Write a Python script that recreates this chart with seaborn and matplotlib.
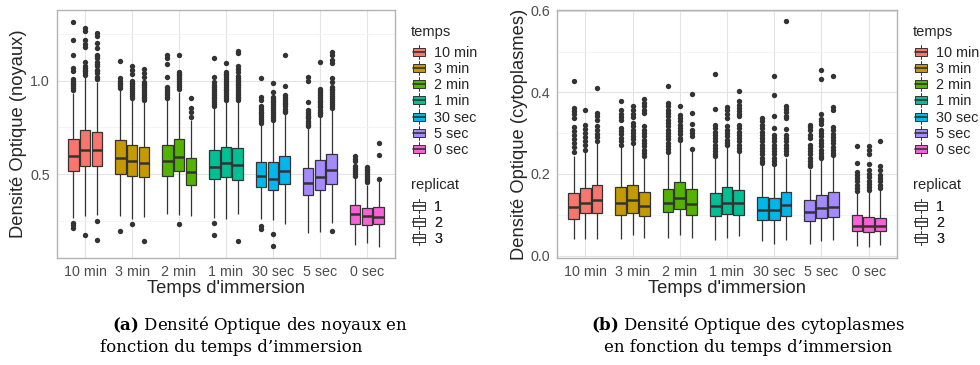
import numpy as np
import pandas as pd
import matplotlib
matplotlib.use('Agg')
import matplotlib.pyplot as plt
from matplotlib.patches import Patch, Rectangle
from matplotlib.lines import Line2D
from matplotlib.legend_handler import HandlerBase
import seaborn as sns

temps = ['10 min', '3 min', '2 min', '1 min', '30 sec', '5 sec', '0 sec']
replicats = ['1', '2', '3']
couleurs = ['#F8766D', '#C49A00', '#53B400', '#00C094', '#00B6EB', '#A58AFF', '#FB61D7']

# Noyaux : one row per temps, one value per replicat
noy_q1 = [[0.518, 0.541, 0.541], [0.500, 0.491, 0.486], [0.491, 0.514, 0.443], [0.473, 0.484, 0.466],
          [0.429, 0.416, 0.448], [0.388, 0.416, 0.448], [0.234, 0.229, 0.232]]
noy_med = [[0.598, 0.629, 0.629], [0.586, 0.568, 0.557], [0.571, 0.589, 0.509], [0.539, 0.557, 0.550],
           [0.491, 0.475, 0.514], [0.450, 0.484, 0.520], [0.284, 0.273, 0.268]]
noy_q3 = [[0.688, 0.736, 0.725], [0.684, 0.655, 0.646], [0.655, 0.688, 0.584], [0.629, 0.645, 0.638],
          [0.564, 0.563, 0.598], [0.532, 0.573, 0.607], [0.334, 0.318, 0.325]]
noy_lo = [[0.264, 0.277, 0.282], [0.273, 0.261, 0.268], [0.286, 0.280, 0.273], [0.264, 0.259, 0.288],
          [0.259, 0.255, 0.232], [0.182, 0.189, 0.238], [0.121, 0.130, 0.107]]
noy_hi = [[0.935, 1.020, 0.995], [0.955, 0.895, 0.885], [0.895, 0.940, 0.790], [0.860, 0.885, 0.890],
          [0.765, 0.780, 0.820], [0.748, 0.805, 0.842], [0.480, 0.440, 0.460]]
noy_fliers = [
    [[1.316, 1.218, 1.138, 1.066, 1.052, 1.01, 1.0, 0.99, 0.98, 0.97, 0.96, 0.95, 0.237, 0.225, 0.21],
     [1.28, 1.268, 1.218, 1.196, 1.18, 1.10, 1.08, 1.07, 1.06, 1.05, 1.04, 1.03, 0.175],
     [1.254, 1.239, 1.204, 1.173, 1.14, 1.13, 1.12, 1.10, 1.09, 1.08, 1.06, 1.05, 1.04, 1.02, 1.01, 0.25, 0.146]],
    [[1.105, 1.013, 1.0, 0.99, 0.98, 0.97, 0.96, 0.195],
     [1.08, 1.057, 1.036, 1.0, 0.99, 0.98, 0.97, 0.96, 0.95, 0.94, 0.93, 0.92, 0.91, 0.23],
     [1.063, 1.04, 1.021, 0.995, 0.985, 0.975, 0.965, 0.955, 0.945, 0.935, 0.925, 0.915, 0.905, 0.897, 0.139]],
    [[1.138, 1.12, 1.089, 1.021, 0.968, 0.955, 0.945, 0.935, 0.925, 0.915, 0.905],
     [1.138, 1.048, 1.038, 1.028, 1.018, 1.008, 0.998, 0.988, 0.978, 0.968, 0.955, 0.23],
     [0.905, 0.852, 0.834, 0.804]],
    [[1.12, 1.02, 0.995, 0.977, 0.965, 0.955, 0.945, 0.935, 0.925, 0.915, 0.905, 0.895, 0.885, 0.875, 0.866,
      0.238, 0.175],
     [1.093, 1.048, 1.038, 1.028, 1.018, 1.008, 0.998, 0.988, 0.978, 0.968, 0.958, 0.948, 0.938, 0.928, 0.918,
      0.908, 0.898],
     [1.16, 1.146, 1.079, 1.064, 1.048, 1.025, 1.015, 1.005, 0.995, 0.985, 0.975, 0.965, 0.955, 0.945, 0.935,
      0.925, 0.915, 0.905, 0.897, 0.139]],
    [[1.013, 0.914, 0.896, 0.864, 0.855, 0.845, 0.835, 0.825, 0.816, 0.805, 0.795, 0.785, 0.775, 0.22, 0.205],
     [0.986, 0.941, 0.914, 0.904, 0.894, 0.884, 0.874, 0.864, 0.854, 0.844, 0.834, 0.82, 0.81, 0.80, 0.79,
      0.18, 0.113],
     [1.138, 0.971, 0.923, 0.913, 0.903, 0.893, 0.883, 0.873, 0.864, 0.85, 0.84, 0.83]],
    [[1.021, 0.998, 0.884, 0.843, 0.833, 0.823, 0.813, 0.803, 0.798, 0.785, 0.775, 0.765, 0.755],
     [1.098, 0.954, 0.944, 0.934, 0.924, 0.914, 0.904, 0.894, 0.884, 0.874, 0.864, 0.857, 0.845, 0.835, 0.825,
      0.815],
     [1.152, 1.138, 1.11, 1.093, 1.013, 0.995, 0.968, 0.958, 0.948, 0.938, 0.928, 0.918, 0.908, 0.896, 0.885,
      0.875, 0.865, 0.855, 0.195]],
    [[0.595, 0.581, 0.568, 0.541, 0.531, 0.521, 0.511, 0.501, 0.491],
     [0.539, 0.529, 0.519, 0.509, 0.499, 0.489, 0.479, 0.469, 0.459],
     [0.668, 0.602, 0.473]],
]

# Cytoplasmes
cyt_q1 = [[0.090, 0.104, 0.104], [0.100, 0.104, 0.096], [0.106, 0.114, 0.099], [0.096, 0.103, 0.099],
          [0.088, 0.088, 0.098], [0.084, 0.091, 0.095], [0.061, 0.057, 0.059]]
cyt_med = [[0.119, 0.130, 0.135], [0.130, 0.135, 0.122], [0.130, 0.141, 0.127], [0.121, 0.130, 0.129],
           [0.111, 0.111, 0.123], [0.106, 0.117, 0.119], [0.073, 0.072, 0.073]]
cyt_q3 = [[0.153, 0.165, 0.174], [0.168, 0.174, 0.155], [0.163, 0.180, 0.163], [0.153, 0.168, 0.160],
          [0.143, 0.141, 0.156], [0.135, 0.149, 0.155], [0.100, 0.095, 0.092]]
cyt_lo = [[0.041, 0.041, 0.041], [0.041, 0.051, 0.043], [0.043, 0.051, 0.043], [0.039, 0.043, 0.047],
          [0.035, 0.029, 0.039], [0.029, 0.035, 0.038], [0.023, 0.020, 0.025]]
cyt_hi = [[0.245, 0.255, 0.276], [0.266, 0.274, 0.242], [0.248, 0.278, 0.259], [0.238, 0.266, 0.251],
          [0.223, 0.219, 0.239], [0.212, 0.235, 0.243], [0.155, 0.157, 0.163]]
cyt_fliers = [
    [[0.429, 0.362, 0.355, 0.347, 0.337, 0.315, 0.305, 0.295, 0.285, 0.275, 0.265, 0.255],
     [0.357, 0.32, 0.31, 0.30, 0.29, 0.28, 0.27, 0.26],
     [0.41, 0.35, 0.342, 0.333, 0.317, 0.308, 0.298, 0.29, 0.28]],
    [[0.378, 0.357, 0.348, 0.34, 0.333, 0.313, 0.305, 0.297, 0.289, 0.281, 0.272],
     [0.366, 0.357, 0.348, 0.34, 0.325, 0.317, 0.309, 0.301, 0.293, 0.285, 0.277],
     [0.384, 0.374, 0.366, 0.358, 0.35, 0.317, 0.308, 0.30, 0.292, 0.284, 0.276, 0.268, 0.26, 0.252, 0.245]],
    [[0.415, 0.375, 0.366, 0.358, 0.349, 0.341, 0.333, 0.325, 0.317, 0.309, 0.301, 0.293, 0.285, 0.277, 0.269,
      0.261, 0.253],
     [0.366, 0.345, 0.337, 0.329, 0.321, 0.313, 0.305, 0.297, 0.289, 0.283],
     [0.397, 0.349, 0.323, 0.308, 0.30, 0.292, 0.262]],
    [[0.446, 0.359, 0.32, 0.312, 0.304, 0.296, 0.288, 0.28, 0.272, 0.264, 0.256, 0.248, 0.243],
     [0.364, 0.356, 0.348, 0.337, 0.317, 0.308, 0.30, 0.292, 0.284, 0.276, 0.272],
     [0.404, 0.378, 0.37, 0.362, 0.354, 0.346, 0.341, 0.32, 0.312, 0.304, 0.296, 0.288, 0.28, 0.272, 0.264,
      0.256]],
    [[0.337, 0.329, 0.32, 0.312, 0.304, 0.296, 0.288, 0.28, 0.272, 0.264, 0.256, 0.248, 0.24, 0.232, 0.226],
     [0.439, 0.394, 0.341, 0.313, 0.296, 0.288, 0.28, 0.272, 0.264, 0.256, 0.248, 0.24, 0.232, 0.224],
     [0.574, 0.367, 0.359, 0.351, 0.343, 0.337, 0.31, 0.296, 0.288, 0.28, 0.272, 0.264, 0.256, 0.248]],
    [[0.32, 0.314, 0.308, 0.296, 0.288, 0.272, 0.264, 0.256, 0.248, 0.24, 0.232, 0.224, 0.219],
     [0.454, 0.433, 0.348, 0.335, 0.329, 0.323, 0.308, 0.30, 0.292, 0.284, 0.276, 0.268, 0.26, 0.252, 0.244,
      0.239],
     [0.441, 0.364, 0.356, 0.315, 0.307, 0.299, 0.291, 0.283, 0.275, 0.267, 0.259, 0.251, 0.247]],
    [[0.269, 0.227, 0.206, 0.198, 0.19, 0.182, 0.174, 0.166, 0.158],
     [0.268, 0.259, 0.248, 0.224, 0.21, 0.2, 0.192, 0.184, 0.176, 0.168, 0.16],
     [0.282, 0.22, 0.21, 0.198, 0.19, 0.182, 0.174, 0.166]],
]

LINE = '#333333'


class BoxKey(HandlerBase):
    # ggplot-like boxplot key: box, median line and whisker through the middle
    def create_artists(self, legend, orig_handle, xdescent, ydescent, width, height, fontsize, trans):
        x0, y0 = -xdescent, -ydescent
        whisk = Line2D([x0 + width / 2] * 2, [y0 - 0.2 * height, y0 + 1.2 * height],
                       color=LINE, lw=0.7, transform=trans)
        box = Rectangle((x0, y0 + 0.1 * height), width, 0.8 * height, facecolor=orig_handle.get_facecolor(),
                        edgecolor=LINE, lw=0.7, transform=trans)
        mid = Line2D([x0, x0 + width], [y0 + height / 2] * 2, color=LINE, lw=1.2, transform=trans)
        return [whisk, box, mid]


def add_legend(ax, title, handles, labels, ytitle, ytop):
    ax.text(1.046, ytitle, title, transform=ax.transAxes, fontsize=10.6, va='center', ha='left')
    leg = ax.legend(handles=handles, labels=labels, handler_map={Patch: BoxKey()},
                    loc='upper left', bbox_to_anchor=(1.052, ytop), frameon=False, fontsize=10.4,
                    handlelength=0.85, handleheight=0.7, handletextpad=0.65, labelspacing=0.15,
                    borderaxespad=0, borderpad=0)
    ax.add_artist(leg)


def draw_panel(ax, q1, med, q3, lo, hi, fliers):
    rows = []
    pts = []
    for i, t in enumerate(temps):
        for j, r in enumerate(replicats):
            x = i + (j - 1) * 0.25
            # values whose quartiles / extremes give the box
            vals = [lo[i][j]] + [q1[i][j]] * 4 + [med[i][j]] * 4 + [q3[i][j]] * 4 + [hi[i][j]]
            rows += [(x, t, r, v) for v in vals]
            pts += [(x, v) for v in fliers[i][j]]
    df = pd.DataFrame(rows, columns=['pos', 'temps', 'replicat', 'val'])
    out = pd.DataFrame(pts, columns=['pos', 'val'])

    sns.boxplot(data=df, x='pos', y='val', hue='temps', hue_order=temps, palette=couleurs,
                native_scale=True, dodge=False, width=0.9, whis=(0, 100), saturation=1,
                linecolor=LINE, linewidth=0.9, medianprops={'linewidth': 1.8},
                capprops={'visible': False}, legend=False, ax=ax)
    sns.scatterplot(data=out, x='pos', y='val', color=LINE, s=15, linewidth=0, legend=False, ax=ax, zorder=3)

    ax.set_xlim(-0.6, 6.6)
    ax.set_xticks(range(len(temps)))
    ax.set_xticklabels(temps)
    ax.grid(which='major', color='#e3e3e3', lw=0.8)
    ax.grid(which='minor', axis='y', color='#f0f0f0', lw=0.5)
    ax.set_axisbelow(True)
    for s in ax.spines.values():
        s.set_visible(True)
        s.set_color('#b3b3b3')
        s.set_linewidth(1.0)
    ax.tick_params(which='major', length=3, width=0.8, color='#b3b3b3', labelcolor='#4d4d4d',
                   labelsize=10.3, pad=2)
    ax.tick_params(which='minor', length=0)
    ax.set_xlabel("Temps d'immersion", fontsize=13.2)
    ax.xaxis.set_label_coords(0.5, -0.09)

    add_legend(ax, 'temps', [Patch(facecolor=c) for c in couleurs], temps, 0.911, 0.855)
    add_legend(ax, 'replicat', [Patch(facecolor='white') for _ in replicats], replicats, 0.294, 0.234)


sns.set_style('white')
plt.rcParams['font.family'] = ['Liberation Sans', 'DejaVu Sans']
plt.rcParams['mathtext.fontset'] = 'custom'
plt.rcParams['mathtext.rm'] = 'DejaVu Serif'
plt.rcParams['mathtext.bf'] = 'DejaVu Serif:bold'

fig = plt.figure(figsize=(9.8, 3.65), dpi=100)
ax1 = fig.add_axes([57 / 980, 107 / 365, 338 / 980, 248 / 365])
ax2 = fig.add_axes([557 / 980, 107 / 365, 340 / 980, 248 / 365])

draw_panel(ax1, noy_q1, noy_med, noy_q3, noy_lo, noy_hi, noy_fliers)
ax1.set_ylim(0.05, 1.379)
ax1.set_yticks([0.5, 1.0])
ax1.set_yticklabels(['0.5', '1.0'])
ax1.set_yticks([0.25, 0.75, 1.25], minor=True)
ax1.set_ylabel('Densité Optique (noyaux)', fontsize=13.2)
ax1.yaxis.set_label_coords(-0.089, 0.5)

draw_panel(ax2, cyt_q1, cyt_med, cyt_q3, cyt_lo, cyt_hi, cyt_fliers)
ax2.set_ylim(-0.006, 0.602)
ax2.set_yticks([0.0, 0.2, 0.4, 0.6])
ax2.set_yticklabels(['0.0', '0.2', '0.4', '0.6'])
ax2.set_yticks([0.1, 0.3, 0.5], minor=True)
ax2.set_ylabel('Densité Optique (cytoplasmes)', fontsize=13.2)
ax2.yaxis.set_label_coords(-0.085, 0.5)

cap = dict(family='DejaVu Serif', fontsize=12, va='center', color='black')
fig.text(112 / 980, 1 - 325 / 365, r'$\mathbf{(a)}$ Densité Optique des noyaux en', ha='left', **cap)
fig.text(100 / 980, 1 - 348 / 365, 'fonction du temps d’immersion', ha='left', **cap)
fig.text(748 / 980, 1 - 325 / 365, r'$\mathbf{(b)}$ Densité Optique des cytoplasmes', ha='center', **cap)
fig.text(748 / 980, 1 - 348 / 365, 'en fonction du temps d’immersion', ha='center', **cap)

fig.savefig('out.png', dpi=100)
